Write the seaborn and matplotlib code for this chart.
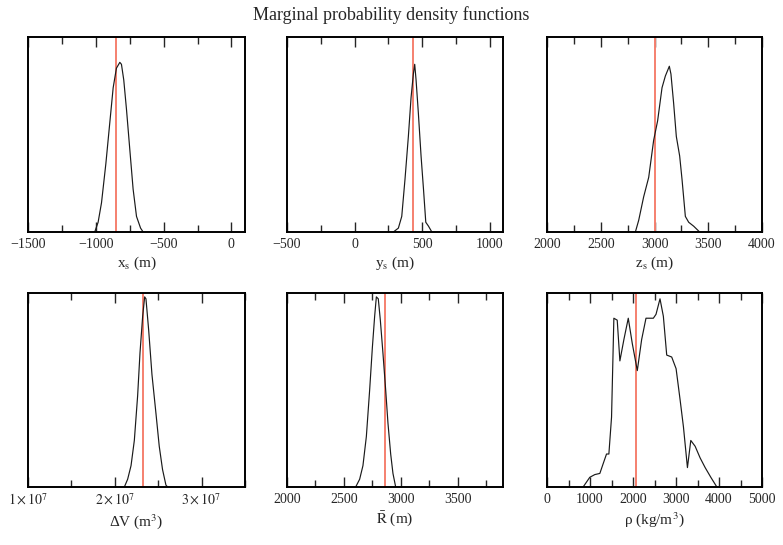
import numpy as np
import pandas as pd
import matplotlib
matplotlib.use("Agg")
import matplotlib.pyplot as plt
import seaborn as sns
from matplotlib.ticker import MultipleLocator, FuncFormatter

sns.set_style("ticks")
plt.rcParams['font.family'] = ['Liberation Serif', 'DejaVu Serif']
plt.rcParams['mathtext.fontset'] = 'stix'

# ---- data (normalised densities) ----
xs_x = [-1008, -983, -958, -926, -897, -872, -848, -823, -811, -794, -774, -749, -725, -700, -670, -651]
xs_p = [0, 0.05, 0.15, 0.35, 0.56, 0.74, 0.84, 0.87, 0.86, 0.78, 0.63, 0.42, 0.22, 0.08, 0.02, 0]
xs_true = -850

ys_x = [288, 325, 350, 374, 399, 419, 436, 446, 456, 473, 493, 511, 528, 548, 573]
ys_p = [0, 0.02, 0.08, 0.27, 0.49, 0.69, 0.81, 0.86, 0.78, 0.61, 0.39, 0.22, 0.05, 0.03, 0]
ys_true = 435

zs_x = [2822, 2853, 2899, 2946, 2992, 3029, 3070, 3101, 3138, 3153, 3178, 3203, 3234, 3256, 3287, 3318, 3364, 3420]
zs_p = [0, 0.06, 0.18, 0.28, 0.47, 0.57, 0.74, 0.80, 0.85, 0.81, 0.66, 0.49, 0.39, 0.27, 0.08, 0.05, 0.03, 0]
zs_true = 3000

dv_x = [2.110e7, 2.148e7, 2.187e7, 2.225e7, 2.263e7, 2.290e7, 2.321e7, 2.344e7, 2.359e7,
        2.390e7, 2.428e7, 2.474e7, 2.512e7, 2.550e7, 2.589e7, 2.608e7]
dv_p = [0, 0.04, 0.11, 0.24, 0.47, 0.69, 0.88, 0.98, 0.97, 0.81, 0.58, 0.38, 0.21, 0.09, 0.01, 0]
dv_true = 2.33e7

r_x = [2604, 2639, 2668, 2698, 2727, 2751, 2771, 2786, 2803, 2821, 2844, 2868, 2888, 2912, 2932, 2956]
r_p = [0, 0.04, 0.11, 0.26, 0.50, 0.72, 0.88, 0.98, 0.97, 0.86, 0.69, 0.50, 0.33, 0.17, 0.07, 0]
r_true = 2860

rho_x = [840, 995, 1112, 1229, 1306, 1384, 1439, 1501, 1555, 1633, 1695, 1788, 1890, 1983, 2100,
         2201, 2302, 2473, 2535, 2628, 2706, 2784, 2900, 3002, 3095, 3173, 3266, 3344, 3445,
         3561, 3678, 3810, 3950]
rho_p = [0, 0.05, 0.064, 0.07, 0.12, 0.17, 0.17, 0.36, 0.87, 0.86, 0.65, 0.76, 0.87, 0.74, 0.60,
         0.76, 0.87, 0.87, 0.89, 0.97, 0.88, 0.68, 0.67, 0.61, 0.45, 0.31, 0.10, 0.24, 0.21,
         0.15, 0.10, 0.05, 0]
rho_true = 2070

xlabels = [r'x$_\mathrm{s}$ (m)', r'y$_\mathrm{s}$ (m)', r'z$_\mathrm{s}$ (m)',
           'ΔV (m$^3$)', r'$\bar{\mathrm{R}}$ (m)', 'ρ (kg/m$^3$)']
title = "Marginal probability density functions"

panels = [
    (xs_x, xs_p, xs_true, (-1500, 100), 500, 250),
    (ys_x, ys_p, ys_true, (-500, 1100), 500, 250),
    (zs_x, zs_p, zs_true, (2000, 4000), 500, 250),
    (dv_x, dv_p, dv_true, (1e7, 3.5e7), 1e7, 0.5e7),
    (r_x, r_p, r_true, (2000, 3900), 500, 250),
    (rho_x, rho_p, rho_true, (0, 5000), 1000, 500),
]

fig = plt.figure(figsize=(7.83, 5.45), dpi=100)
lefts = [28, 287, 547]
widths = [217, 216, 215]
W, H = 783, 545
rows = [(37, 232), (293, 487)]


def sci_fmt(v, pos):
    m = v / 1e7
    return r'$%d\times10^{7}$' % round(m)


for i, (x, p, true, xlim, maj, mnr) in enumerate(panels):
    r, c = divmod(i, 3)
    top, bot = rows[r]
    ax = fig.add_axes([lefts[c] / W, 1 - bot / H, widths[c] / W, (bot - top) / H])
    df = pd.DataFrame({"x": x, "p": p})
    sns.lineplot(data=df, x="x", y="p", ax=ax, color="#1a1a1a", lw=0.85, sort=False)
    ax.axvline(true, color="#f5806f", lw=1.4, zorder=1)
    ax.set_xlim(*xlim)
    ax.set_ylim(0, 1)
    ax.xaxis.set_major_locator(MultipleLocator(maj))
    ax.xaxis.set_minor_locator(MultipleLocator(mnr))
    if i == 3:
        ax.xaxis.set_major_formatter(FuncFormatter(sci_fmt))
    ax.tick_params(axis='x', which='both', direction='in', top=True, bottom=True,
                   labelsize=10, pad=4)
    ax.tick_params(axis='x', which='major', length=7, width=1)
    ax.tick_params(axis='x', which='minor', length=5, width=1)
    ax.tick_params(axis='y', which='both', left=False, right=False, labelleft=False)
    ax.set_yticks([])
    ax.set_ylabel("")
    ax.set_xlabel(xlabels[i], fontsize=11, labelpad=3)
    for s in ax.spines.values():
        s.set_linewidth(1.4)
        s.set_color("black")
        s.set_visible(True)

fig.text(0.5, 1 - 15 / H, title, ha="center", va="center", fontsize=13)
fig.savefig("out.png", dpi=100)
